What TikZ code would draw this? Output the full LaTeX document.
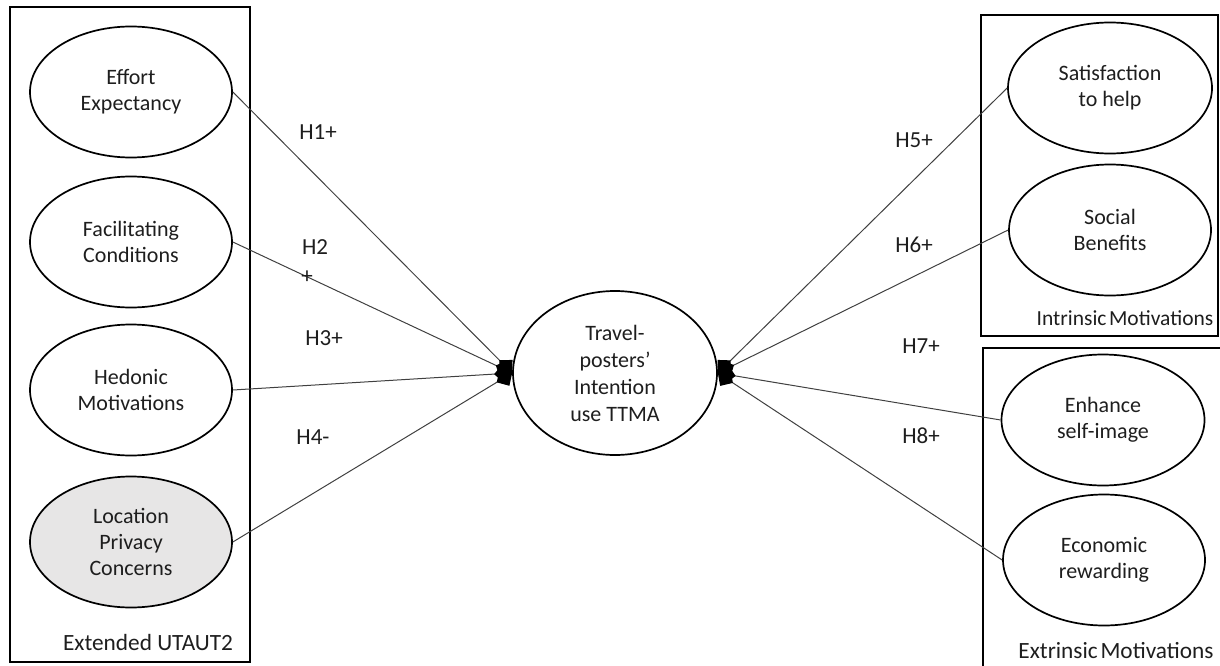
\documentclass[tikz,border=0pt]{standalone}
\usepackage{fontspec}
\setmainfont{Carlito}
\usetikzlibrary{shapes.geometric,arrows.meta}
\definecolor{lpc}{RGB}{231,230,230}
\definecolor{txt}{RGB}{30,30,30}
\begin{document}
\begin{tikzpicture}[x=1pt,y=-1pt,
  construct/.style={ellipse,draw=black,line width=1.7pt,inner sep=0pt,
    minimum width=202pt,minimum height=131pt,align=center,text=txt,
    font=\fontsize{22}{26}\selectfont},
  group/.style={draw=black,line width=2.2pt},
  lbl/.style={text=txt,font=\fontsize{23}{27}\selectfont,inner sep=0pt},
  hyp/.style={draw=black!75,line width=1pt,arrows={-Diamond[length=18pt,width=19pt,fill=black,color=black]}}
]
\useasboundingbox (0,0) rectangle (1220,666);
% group boxes
\draw[group] (10,7) rectangle (250,662);
\draw[group] (981,15) rectangle (1218,336);
\coordinate (ext1) at (1230,348);
\coordinate (ext2) at (983,348);
\coordinate (ext3) at (983,680);
\draw[group] (ext1) -- (ext2) -- (ext3);
% constructs
\node[construct] (ee) at (131,92) {Effort\\Expectancy};
\node[construct] (fc) at (131,242) {Facilitating\\Conditions};
\node[construct] (hm) at (131,390) {Hedonic\\Motivations};
\node[construct,fill=lpc] (lp) at (131,542) {Location\\Privacy\\Concerns};
\node[construct,minimum width=204pt,minimum height=164pt,font=\fontsize{22}{27}\selectfont] (ti) at (615,373) {Travel-\\posters’\\Intention\\use TTMA};
\node[construct,minimum width=204pt] (sh) at (1110,88) {Satisfaction\\to help};
\node[construct] (sb) at (1110,230) {Social\\Benefits};
\node[construct,minimum width=203pt] (es) at (1103,420) {Enhance\\self-image};
\node[construct] (er) at (1104,560) {Economic\\rewarding};
% group labels
\node[lbl,font=\fontsize{23.3}{27}\selectfont] (l1) at (148,642) {Extended UTAUT2};
\node[lbl,font=\fontsize{21.5}{26}\selectfont] (l2) at (1125,318) {Intrinsic\hspace{0.12em}Motivations};
\node[lbl,font=\fontsize{23.3}{27}\selectfont] (l3) at (1116,651) {Extrinsic\hspace{0.12em}Motivations};
% paths
\draw[hyp] (ee.east) -- (ti.west);
\draw[hyp] (fc.east) -- (ti.west);
\draw[hyp] (hm.east) -- (ti.west);
\draw[hyp] (lp.east) -- (ti.west);
\draw[hyp] (sh.west) -- (ti.east);
\draw[hyp] (sb.west) -- (ti.east);
\draw[hyp] (es.west) -- (ti.east);
\draw[hyp] (er.west) -- (ti.east);
% hypothesis labels
\node[lbl] (h1) at (318,132) {H1+};
\node[lbl] (h2) at (315,247) {H2};
\node[lbl] (h2p) at (307,277) {+};
\node[lbl] (h3) at (324,338) {H3+};
\node[lbl] (h4) at (313,437) {H4-};
\node[lbl] (h5) at (914,140) {H5+};
\node[lbl] (h6) at (914,245) {H6+};
\node[lbl] (h7) at (921,346) {H7+};
\node[lbl] (h8) at (921,436) {H8+};
\end{tikzpicture}
\end{document}
